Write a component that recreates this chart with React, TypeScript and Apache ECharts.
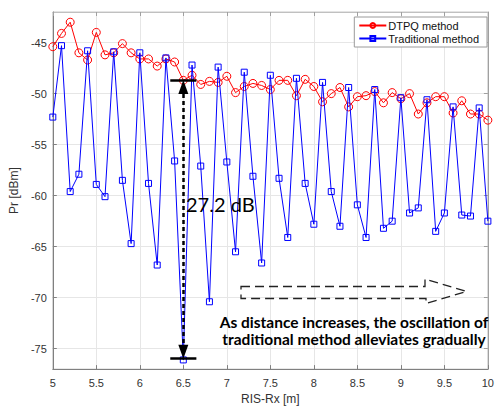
import React, { useEffect, useRef } from "react";
import * as echarts from "echarts";

const distances = [
  5.0, 5.1, 5.2, 5.3, 5.4, 5.5, 5.6, 5.7, 5.8, 5.9,
  6.0, 6.1, 6.2, 6.3, 6.4, 6.5, 6.6, 6.7, 6.8, 6.9,
  7.0, 7.1, 7.2, 7.3, 7.4, 7.5, 7.6, 7.7, 7.8, 7.9,
  8.0, 8.1, 8.2, 8.3, 8.4, 8.5, 8.6, 8.7, 8.8, 8.9,
  9.0, 9.1, 9.2, 9.3, 9.4, 9.5, 9.6, 9.7, 9.8, 9.9,
  10.0,
];

const dtpq = [
  -45.4, -44.1, -43.0, -46.0, -46.7, -44.0, -46.2, -46.0, -45.1, -46.0,
  -46.6, -46.6, -47.3, -46.6, -46.9, -48.7, -48.2, -49.1, -48.8, -48.9,
  -48.3, -49.9, -49.3, -49.0, -49.2, -49.6, -48.7, -48.7, -50.2, -48.6,
  -49.3, -50.8, -50.0, -49.4, -51.3, -50.3, -50.2, -49.8, -50.9, -49.9,
  -50.5, -50.0, -52.0, -50.9, -50.3, -50.3, -51.9, -50.7, -52.0, -52.0,
  -52.6,
];

const traditional = [
  -52.3, -45.3, -59.6, -57.9, -45.8, -58.9, -60.1, -45.9, -58.5, -64.7,
  -46.0, -58.8, -66.8, -46.5, -56.6, -76.1, -47.2, -57.1, -70.4, -47.4,
  -56.7, -65.5, -47.9, -58.1, -66.6, -48.2, -58.3, -64.1, -48.5, -58.8,
  -62.8, -48.9, -59.6, -63.0, -49.4, -60.9, -64.1, -49.6, -63.2, -62.5,
  -50.4, -61.7, -61.2, -50.6, -63.5, -61.7, -51.3, -61.9, -62.0, -51.4,
  -62.5,
];

const seriesNames = ["DTPQ method", "Traditional method"];
const yTicks = [-75, -70, -65, -60, -55, -50, -45];
const xRange = [5, 10];
const yRange = [-77, -42];
const xName = "RIS-Rx [m]";
const yName = "Pr [dBm]";
const gapLabel = "27.2 dB";
const noteText = "As distance increases, the oscillation of\ntraditional method alleviates gradually";

// annotation anchors (data coordinates)
const gapX = 6.5;
const gapTop = -48.68;
const gapBottom = -75.95;
const barHalf = 0.15;
const arrowTop = -49.35;
const arrowBottom = -75.3;

export default function App() {
  const ref = useRef<HTMLDivElement>(null);

  useEffect(() => {
    if (!ref.current) return;
    const chart = echarts.init(ref.current, undefined, { renderer: "svg" });
    const axisColor = "#808080";
    const labelColor = "#333333";
    const font = "'Liberation Sans', Arial, sans-serif";

    const redData = distances.map((d, i) => [d, dtpq[i]]);
    const blueData = distances.map((d, i) => [d, traditional[i]]);

    chart.setOption({
      animation: false,
      backgroundColor: "#ffffff",
      textStyle: { fontFamily: font },
      grid: {
        left: 46,
        right: 5,
        top: 12,
        bottom: 36,
        show: true,
        borderColor: "#c8c8c8",
        borderWidth: 1,
      },
      legend: {
        data: seriesNames,
        orient: "vertical",
        right: 10,
        top: 17,
        backgroundColor: "#ffffff",
        borderColor: "#9a9a9a",
        borderWidth: 1,
        borderRadius: 0,
        padding: [3, 8, 3, 4],
        itemGap: 2,
        itemWidth: 27,
        itemHeight: 6,
        textStyle: { fontSize: 11, color: "#111", fontFamily: font, padding: [0, 0, 0, -3] },
      },
      xAxis: [
        {
          type: "value",
          min: xRange[0],
          max: xRange[1],
          interval: 0.5,
          name: xName,
          nameLocation: "middle",
          nameGap: 22,
          nameTextStyle: { fontSize: 12, color: labelColor, fontFamily: font },
          axisLine: { show: true, lineStyle: { color: axisColor, width: 1 } },
          axisTick: { show: true, inside: true, length: 4, lineStyle: { color: axisColor } },
          axisLabel: { fontSize: 11, color: labelColor, margin: 8, fontFamily: font },
          splitLine: { show: true, lineStyle: { color: "#e6e6e6", width: 1 } },
        },
        {
          type: "value",
          position: "top",
          min: xRange[0],
          max: xRange[1],
          interval: 0.5,
          axisLine: { show: true, lineStyle: { color: "#c0c0c0", width: 1 } },
          axisTick: { show: true, inside: true, length: 4, lineStyle: { color: "#a0a0a0" } },
          axisLabel: { show: false },
          splitLine: { show: false },
        },
      ],
      yAxis: [
        {
          type: "value",
          min: yRange[0],
          max: yRange[1],
          name: yName,
          nameLocation: "middle",
          nameGap: 27,
          nameTextStyle: { fontSize: 12, color: labelColor, fontFamily: font },
          axisLine: { show: true, lineStyle: { color: axisColor, width: 1 } },
          axisTick: { show: true, inside: true, length: 4, customValues: yTicks, lineStyle: { color: axisColor } },
          axisLabel: { fontSize: 11, color: labelColor, margin: 6, customValues: yTicks, fontFamily: font },
          splitLine: { show: true, lineStyle: { color: "#e6e6e6", width: 1 } },
        },
        {
          type: "value",
          position: "right",
          min: yRange[0],
          max: yRange[1],
          axisLine: { show: true, lineStyle: { color: "#a0a0a0", width: 1 } },
          axisTick: { show: true, inside: true, length: 4, customValues: yTicks, lineStyle: { color: "#a0a0a0" } },
          axisLabel: { show: false, customValues: yTicks },
          splitLine: { show: false },
        },
      ],
      series: [
        {
          name: seriesNames[0],
          type: "line",
          data: redData,
          xAxisIndex: 0,
          yAxisIndex: 0,
          symbol: "circle",
          symbolSize: 8,
          showAllSymbol: true,
          lineStyle: { color: "#ff0000", width: 1 },
          itemStyle: { color: "rgba(255,255,255,0)", borderColor: "#ff0000", borderWidth: 1 },
          emphasis: { disabled: true },
          z: 3,
        },
        {
          name: seriesNames[1],
          type: "line",
          data: blueData,
          xAxisIndex: 0,
          yAxisIndex: 0,
          symbol: "rect",
          symbolSize: 6,
          showAllSymbol: true,
          lineStyle: { color: "#0000ff", width: 1 },
          itemStyle: { color: "rgba(255,255,255,0)", borderColor: "#0000ff", borderWidth: 1 },
          emphasis: { disabled: true },
          z: 4,
          markLine: {
            silent: true,
            animation: false,
            label: { show: false },
            emphasis: { disabled: true },
            data: [
              [
                { coord: [gapX - barHalf, gapTop], symbol: "none", lineStyle: { color: "#000", width: 2.5, type: "solid" } },
                { coord: [gapX + barHalf, gapTop], symbol: "none" },
              ],
              [
                { coord: [gapX - barHalf, gapBottom], symbol: "none", lineStyle: { color: "#000", width: 2.5, type: "solid" } },
                { coord: [gapX + barHalf, gapBottom], symbol: "none" },
              ],
              [
                {
                  coord: [gapX, arrowTop],
                  symbol: "triangle",
                  symbolSize: [10, 14],
                  lineStyle: { color: "#000", width: 2.5, type: [4, 3] },
                  itemStyle: { color: "#000" },
                },
                { coord: [gapX, arrowBottom], symbol: "triangle", symbolSize: [10, 14], itemStyle: { color: "#000" } },
              ],
            ],
          },
        },
      ],
      graphic: [
        {
          type: "text",
          left: 186,
          top: 194,
          z: 10,
          style: {
            text: gapLabel,
            fontSize: 20,
            fontFamily: "Lato, 'Open Sans', sans-serif",
            fill: "#000",
          },
        },
        {
          type: "polygon",
          z: 10,
          shape: {
            points: [
              [241, 286.5],
              [425, 286.5],
              [425, 279],
              [466.5, 291.5],
              [426, 303.5],
              [426, 298.5],
              [241, 298.5],
            ],
          },
          style: { fill: "none", stroke: "#222", lineWidth: 1.3, lineDash: [9, 5] },
        },
        {
          type: "text",
          x: 354,
          y: 313,
          z: 10,
          style: {
            text: noteText,
            fontSize: 15.5,
            fontWeight: "bold",
            lineHeight: 17,
            align: "center",
            fontFamily: "Lato, 'Open Sans', sans-serif",
            fill: "#000",
          },
        },
      ],
    });

    return () => chart.dispose();
  }, []);

  return (
    <div
      ref={ref}
      style={{ position: "fixed", left: 0, top: 0, width: 497, height: 410, background: "#fff" }}
    />
  );
}
